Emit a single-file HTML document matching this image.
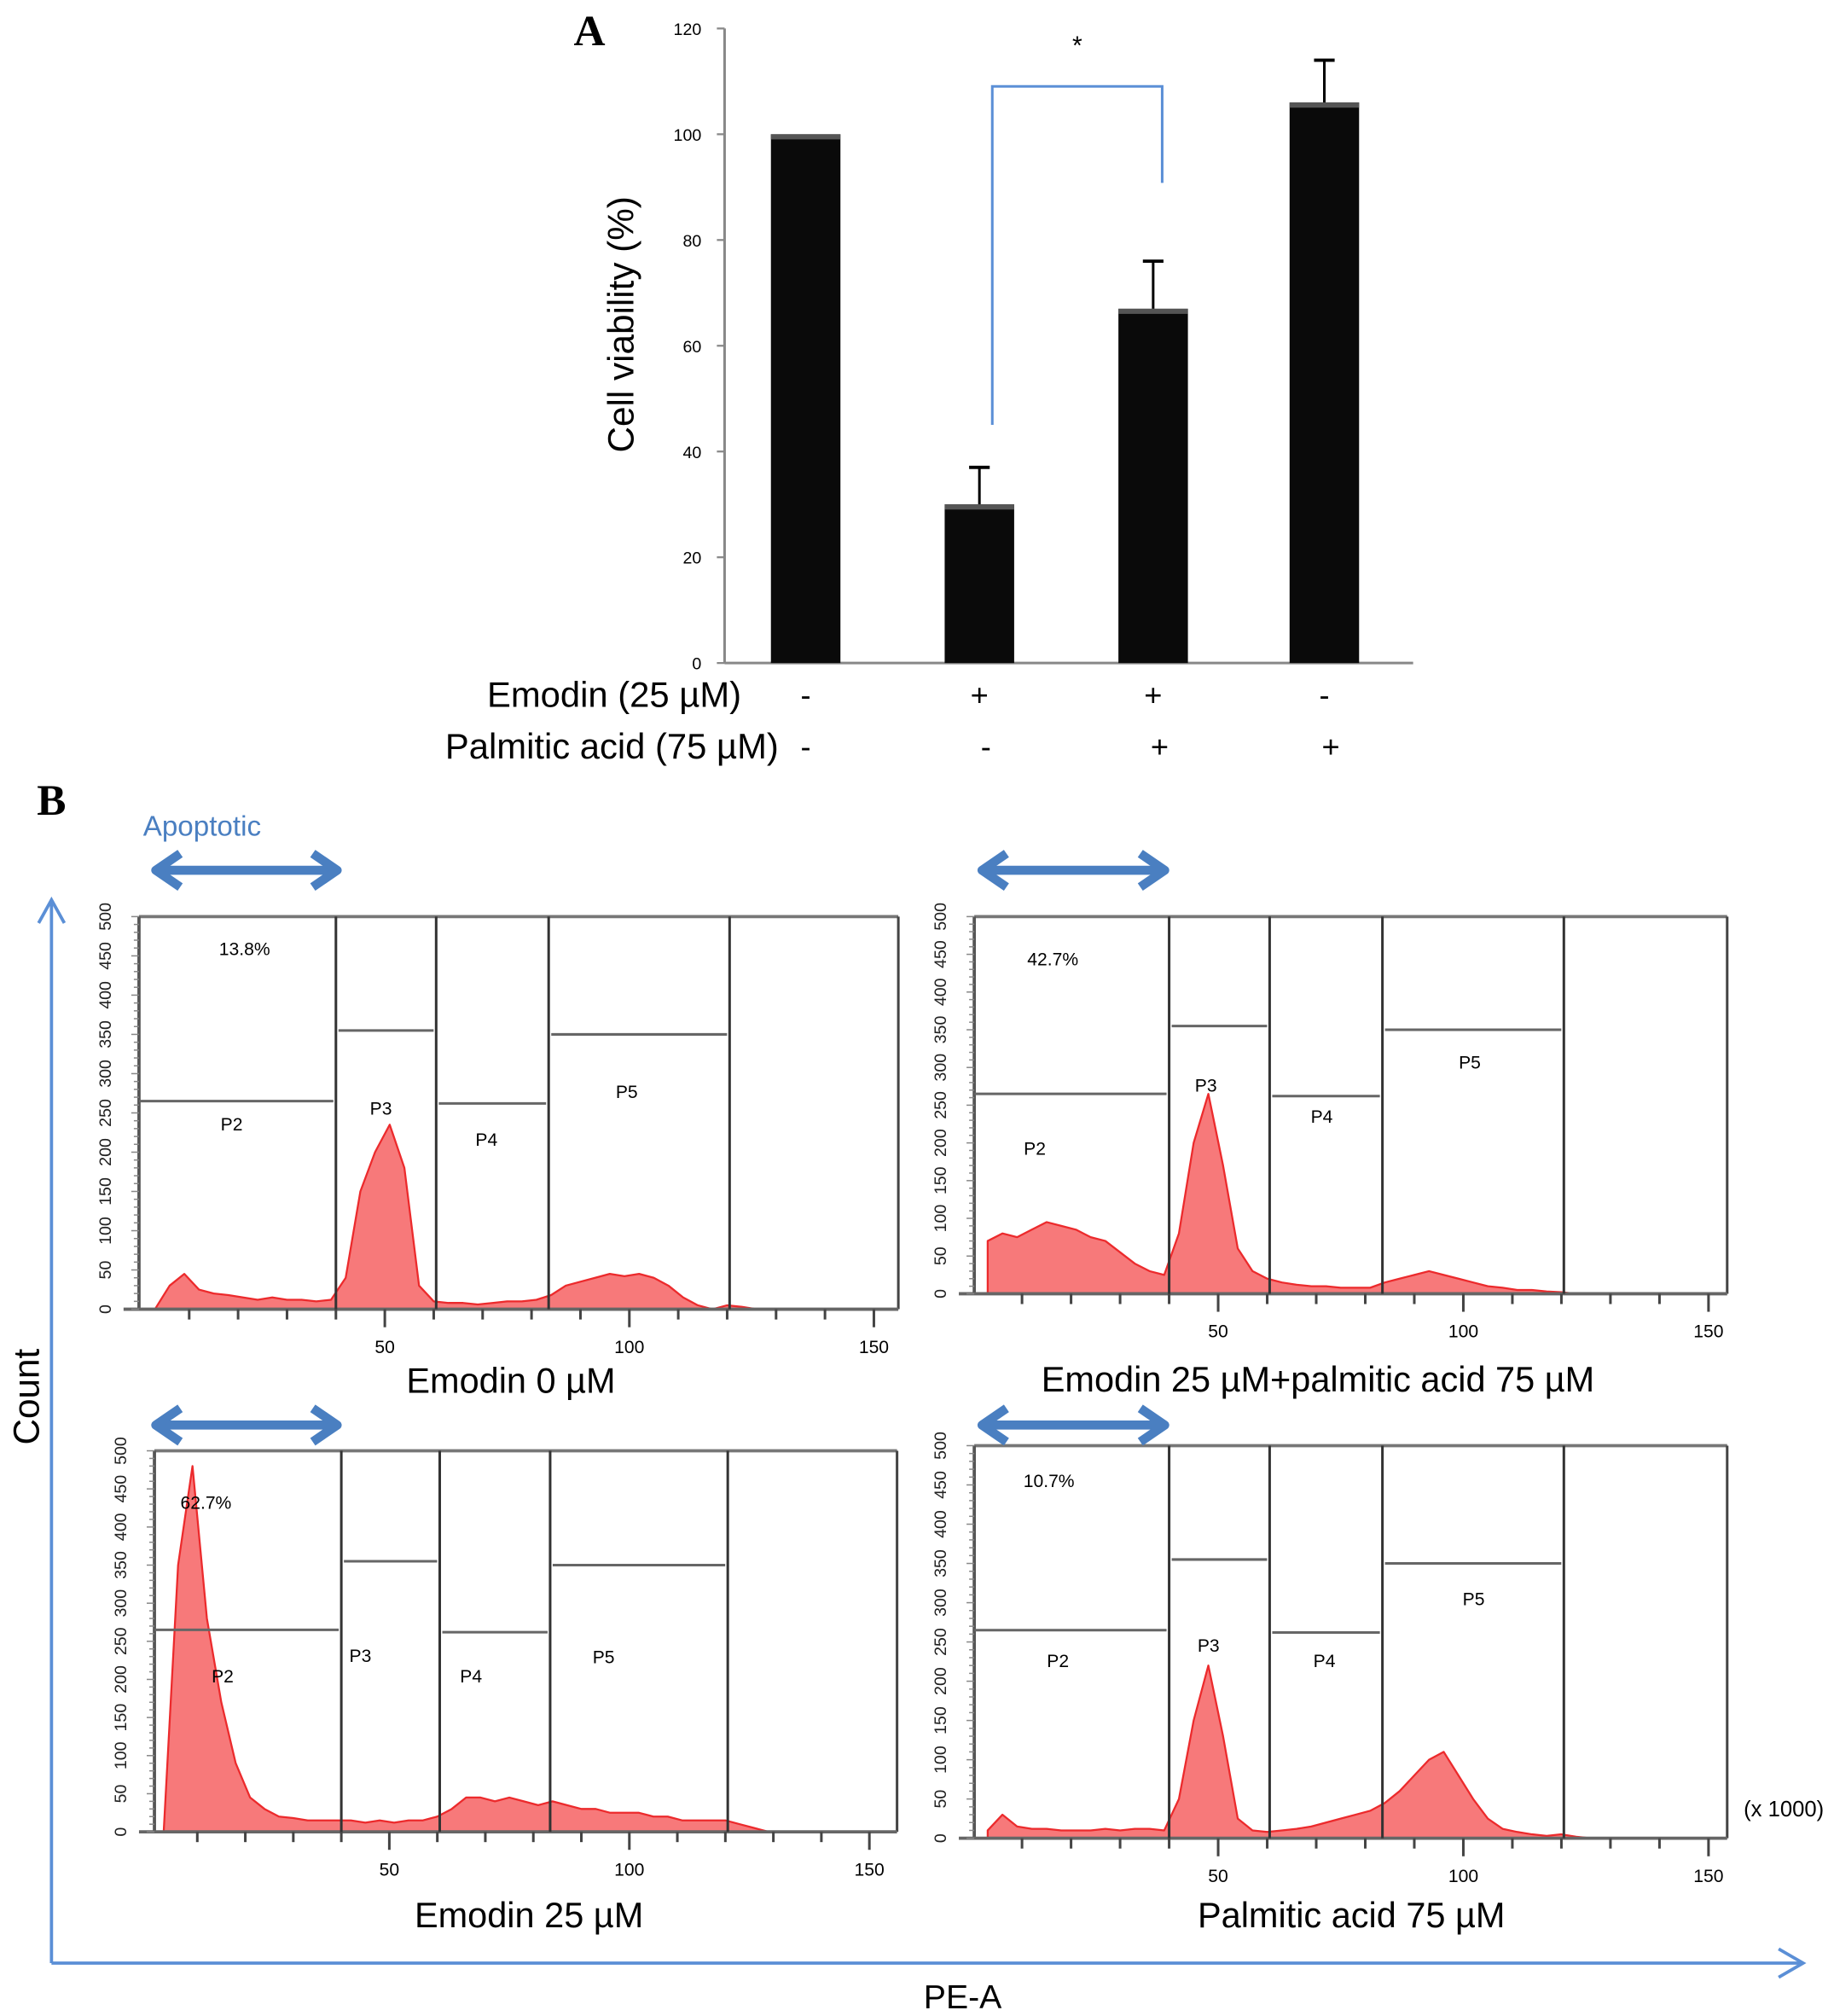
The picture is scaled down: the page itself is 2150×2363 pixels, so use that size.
<!DOCTYPE html>
<html><head><meta charset="utf-8"><style>
html,body{margin:0;padding:0;background:#fff;}
svg{display:block;font-family:"Liberation Sans",sans-serif;}
</style></head><body>
<svg id="fig" width="2150" height="2363" viewBox="0 0 1425 1566" xmlns="http://www.w3.org/2000/svg">
<g id="panelA"></g>
<g id="panelB"></g>
</svg>
<script>
// ---------- Panel A data ----------
const groups = ["ctrl","emodin","emodin+pa","pa"];
const viability = [100, 30, 67, 106];
const errorTop = [100, 37, 76, 114];
const yTicksA = [0,20,40,60,80,100,120];
const emodinSigns = ["-","+","+","-"];
const paSigns = ["-","-","+","+"];

// ---------- Panel B data ----------
const bins = [3,6,9,12,15,18,21,24,27,30,33,36,39,42,45,48,51,54,57,60,63,66,69,72,75,78,81,84,87,90,93,96,99,102,105,108,111,114,117,120,123,126,129];
const countsEmodin0 = [0,30,45,25,20,18,15,12,15,12,12,10,12,40,150,200,235,180,30,10,8,8,6,8,10,10,12,18,30,35,40,45,42,45,40,30,15,5,0,5,3,0,0];
const countsEmodinPA = [70,80,75,85,95,90,85,75,70,55,40,30,25,80,200,265,170,60,30,20,15,12,10,10,8,8,8,15,20,25,30,25,20,15,10,8,5,5,3,2,0,0,0];
const countsEmodin25 = [0,350,480,280,170,90,45,30,20,18,15,15,15,15,12,15,12,15,15,20,30,45,45,40,45,40,35,40,35,30,30,25,25,25,20,20,15,15,15,15,10,5,0];
const countsPA = [10,30,15,12,12,10,10,10,12,10,12,12,10,50,150,220,130,25,10,8,10,12,15,20,25,30,35,45,60,80,100,110,80,50,25,12,8,5,3,5,2,0,0];
const yTicksB = [0,50,100,150,200,250,300,350,400,450,500];
const xTicksB = [50,100,150];
const gateEdges = [40,60.5,83.5,120.5];
const gateLevels = [265,355,262,350];
const apoptoticPct = ["13.8%","42.7%","62.7%","10.7%"];

const NS="http://www.w3.org/2000/svg";
function mk(tag, parent, attrs, text){
  const e=document.createElementNS(NS,tag);
  for(const k in attrs) e.setAttribute(k,attrs[k]);
  if(text!==undefined) e.textContent=text;
  parent.appendChild(e); return e;
}
const A=document.getElementById('panelA');
const B=document.getElementById('panelB');

// ---- Panel A ----
const yA = v => 515 - v*4.108;
const xA = i => [626,761,896,1029][i];
let t=mk('text',A,{x:458,y:35,'font-family':'Liberation Serif,serif','font-weight':'bold','font-size':34,'text-anchor':'middle'},'A');


let l=mk('line',A,{x1:563,y1:yA(120),x2:563,y2:515,stroke:'#888','stroke-width':2});


l=mk('line',A,{x1:563,y1:515,x2:1098,y2:515,stroke:'#888','stroke-width':2});


yTicksA.forEach(v=>{
  mk('line',A,{x1:557,y1:yA(v),x2:563,y2:yA(v),stroke:'#888','stroke-width':1.5});
  const tt=mk('text',A,{x:545,y:yA(v)+5,'font-size':13,'text-anchor':'end'},String(v));
  
  
});
t=mk('text',A,{x:0,y:0,'font-size':28,'text-anchor':'middle',transform:'translate(492,252) rotate(-90)'},'Cell viability (%)');


groups.forEach((g,i)=>{
  const cx=xA(i);
  if(errorTop[i]>viability[i]){
    const e1=mk('line',A,{x1:cx,y1:yA(errorTop[i]),x2:cx,y2:yA(viability[i]),stroke:'#000','stroke-width':2});
    
    
    mk('line',A,{x1:cx-8,y1:yA(errorTop[i]),x2:cx+8,y2:yA(errorTop[i]),stroke:'#000','stroke-width':2.5});
  }
  const r=mk('rect',A,{x:cx-27,y:yA(viability[i]),width:54,height:515-yA(viability[i]),fill:'#0a0a0a'});
  
  
  mk('rect',A,{x:cx-27,y:yA(viability[i]),width:54,height:4,fill:'#555'});
  const s1=mk('text',A,{x:cx,y:548,'font-size':24,'text-anchor':'middle'},emodinSigns[i]);
  
  
  const s2=mk('text',A,{x:cx+(i==0?0:5),y:588,'font-size':24,'text-anchor':'middle'},paSigns[i]);
  
  
});
let br=mk('polyline',A,{points:'771,330 771,67 903,67 903,142',fill:'none',stroke:'#5b8fd6','stroke-width':2});


t=mk('text',A,{x:837,y:42,'font-size':20,'text-anchor':'middle'},'*');


t=mk('text',A,{x:576,y:549,'font-size':27.7,'text-anchor':'end'},'Emodin (25 µM)');


t=mk('text',A,{x:605,y:589,'font-size':27.7,'text-anchor':'end'},'Palmitic acid (75 µM)');



// ---- Panel B ----
t=mk('text',B,{x:40,y:633,'font-family':'Liberation Serif,serif','font-weight':'bold','font-size':34,'text-anchor':'middle'},'B');


t=mk('text',B,{x:157,y:649,'font-size':22,fill:'#4a7fc1','text-anchor':'middle'},'Apoptotic');


l=mk('line',B,{x1:40,y1:700,x2:40,y2:1525,stroke:'#5b8fd6','stroke-width':2.5});


mk('polyline',B,{points:'30,717 40,699 50,717',fill:'none',stroke:'#5b8fd6','stroke-width':2.5});
l=mk('line',B,{x1:40,y1:1525,x2:1400,y2:1525,stroke:'#5b8fd6','stroke-width':2.5});


mk('polyline',B,{points:'1382,1514 1401,1525 1382,1536',fill:'none',stroke:'#5b8fd6','stroke-width':2.5});
t=mk('text',B,{x:0,y:0,'font-size':28,'text-anchor':'middle',transform:'translate(30,1085) rotate(-90)'},'Count');


t=mk('text',B,{x:748,y:1560,'font-size':26,'text-anchor':'middle'},'PE-A');


t=mk('text',B,{x:1386,y:1411,'font-size':17,'text-anchor':'middle'},'(x 1000)');



function dblArrow(x1,x2,y){
  const g=mk('g',B,{});
  
  
  mk('line',g,{x1:x1+8,y1:y,x2:x2-8,y2:y,stroke:'#4a7fc1','stroke-width':7});
  mk('polyline',g,{points:`${x1+22},${y-13} ${x1+3},${y} ${x1+22},${y+13}`,fill:'none',stroke:'#4a7fc1','stroke-width':7,'stroke-linejoin':'round'});
  mk('polyline',g,{points:`${x2-22},${y-13} ${x2-3},${y} ${x2-22},${y+13}`,fill:'none',stroke:'#4a7fc1','stroke-width':7,'stroke-linejoin':'round'});
}

const panels=[
 {name:'emodin-0',counts:countsEmodin0,L:108,T:712,R:698,Bt:1017,x0:109,sx:3.8,title:'Emodin 0 µM',tx:397,ty:1082,arr:[118,265,676],
  lab:[[190,737],[180,873],[296,861],[378,885],[487,848]]},
 {name:'emodin-pa',counts:countsEmodinPA,L:757,T:712,R:1342,Bt:1005,x0:756,sx:3.81,title:'Emodin 25 µM+palmitic acid 75 µM',tx:1024,ty:1081,arr:[760,908,676],
  lab:[[818,745],[804,892],[937,843],[1027,867],[1142,825]]},
 {name:'emodin-25',counts:countsEmodin25,L:120,T:1127,R:697,Bt:1423,x0:116,sx:3.73,title:'Emodin 25 µM',tx:411,ty:1497,arr:[118,265,1107],
  lab:[[160,1167],[173,1302],[280,1286],[366,1302],[469,1287]]},
 {name:'palmitic-75',counts:countsPA,L:757,T:1123,R:1342,Bt:1428,x0:756,sx:3.81,title:'Palmitic acid 75 µM',tx:1050,ty:1497,arr:[760,908,1107],
  lab:[[815,1150],[822,1290],[939,1278],[1029,1290],[1145,1242]]}
];
panels.forEach((p,pi)=>{
  const g=mk('g',B,{});
  
  
  const sy=(p.Bt-p.T)/500;
  const X=v=>p.x0+v*p.sx, Y=c=>p.Bt-c*sy;
  let d=`M${X(bins[0])},${p.Bt}`;
  bins.forEach((b,i)=>{d+=` L${X(b)},${Y(p.counts[i])}`;});
  d+=` L${X(bins[bins.length-1])},${p.Bt} Z`;
  const h=mk('path',g,{d:d,fill:'#f7797a',stroke:'#ec2a2c','stroke-width':1.5,'stroke-linejoin':'round'});
  
  
  mk('line',g,{x1:p.L,y1:p.T,x2:p.R,y2:p.T,stroke:'#777','stroke-width':2.5});
  mk('line',g,{x1:p.R,y1:p.T,x2:p.R,y2:p.Bt,stroke:'#444','stroke-width':2});
  mk('line',g,{x1:p.L,y1:p.T,x2:p.L,y2:p.Bt,stroke:'#555','stroke-width':2.5});
  mk('line',g,{x1:p.L-12,y1:p.Bt,x2:p.R,y2:p.Bt,stroke:'#666','stroke-width':2.5});
  for(let c=0;c<=500;c+=10){
    mk('line',g,{x1:p.L-(c%50==0?6:4),y1:Y(c),x2:p.L,y2:Y(c),stroke:'#888','stroke-width':1});
  }
  yTicksB.forEach(c=>{
    const tt=mk('text',g,{x:0,y:0,'font-size':13,'text-anchor':'middle',fill:'#222',transform:`translate(${p.L-22},${Y(c)}) rotate(-90)`},String(c));
    
    
  });
  for(let v=10;v<=150;v+=10){
    mk('line',g,{x1:X(v),y1:p.Bt,x2:X(v),y2:p.Bt+(v%50==0?14:8),stroke:'#444','stroke-width':2});
  }
  xTicksB.forEach(v=>{
    const tt=mk('text',g,{x:X(v),y:p.Bt+34,'font-size':14,'text-anchor':'middle'},String(v));
    
    
  });
  const edges=[0].concat(gateEdges);
  gateEdges.forEach(v=>{
    const gl=mk('line',g,{x1:X(v),y1:p.T,x2:X(v),y2:p.Bt,stroke:'#333','stroke-width':2});
    
    
  });
  gateLevels.forEach((lev,i)=>{
    const x1=i==0?p.L:X(edges[i])+2;
    const hl=mk('line',g,{x1:x1,y1:Y(lev),x2:X(edges[i+1])-2,y2:Y(lev),stroke:'#666','stroke-width':2});
    
    
  });
  const labs=[apoptoticPct[pi],'P2','P3','P4','P5'];
  labs.forEach((s,i)=>{
    const tt=mk('text',g,{x:p.lab[i][0],y:p.lab[i][1]+5,'font-size':14,'text-anchor':'middle'},s);
    
    
  });
  const ti=mk('text',g,{x:p.tx,y:p.ty,'font-size':27.5,'text-anchor':'middle'},p.title);
  
  
  dblArrow(p.arr[0],p.arr[1],p.arr[2]);
});
</script>
</body></html>
